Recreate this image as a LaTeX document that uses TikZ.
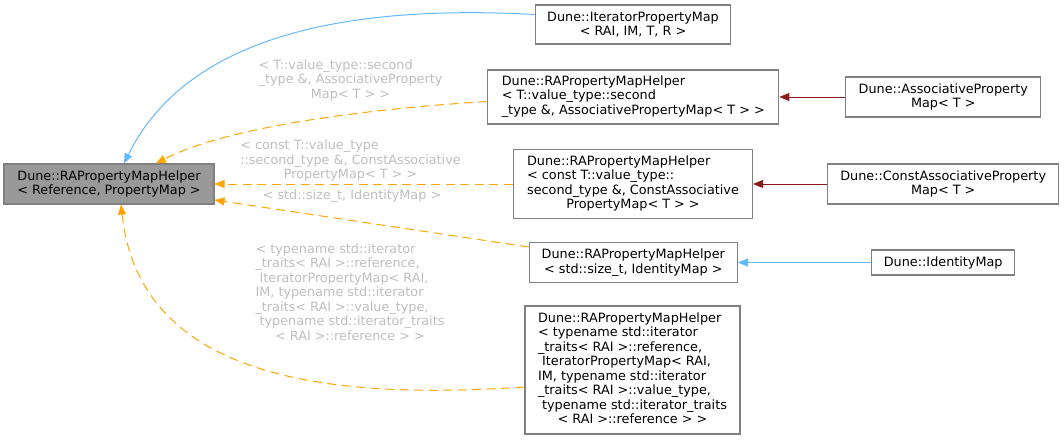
\documentclass[tikz,border=0pt]{standalone}
\usepackage{fontspec}
\setmainfont{DejaVu Sans}
\usetikzlibrary{arrows.meta}
\definecolor{edgeblue}{RGB}{99,184,255}
\definecolor{edgeorange}{RGB}{255,165,0}
\definecolor{edgered}{RGB}{139,26,26}
\definecolor{boxborder}{RGB}{128,128,128}
\definecolor{mainfill}{RGB}{153,153,153}
\definecolor{lblgray}{RGB}{190,190,190}
\begin{document}
\begin{tikzpicture}[x=1pt,y=-1pt,
  font=\fontsize{12.8}{14.5}\selectfont,
  cls/.style={draw=boxborder, line width=1.1pt, fill=white, inner sep=0pt, align=center},
  lbl/.style={text=lblgray, align=center, inner sep=0pt},
  bluearrow/.style={draw=edgeblue, line width=1pt, -{Triangle[length=10pt,width=8pt]}, fill=none},
  redarrow/.style={draw=edgered, line width=1pt, -{Triangle[length=10pt,width=8pt]}},
  orangearrow/.style={draw=edgeorange, line width=1pt, dash pattern=on 9pt off 5.5pt, -{Triangle[length=10pt,width=8pt]}}
]
\useasboundingbox (0,0) rectangle (1064,440);

\node[cls, fill=mainfill, minimum width=210pt, minimum height=40pt] (main) at (109,184)
  {Dune::RAPropertyMapHelper\\< Reference, PropertyMap >};
\node[cls, minimum width=195pt, minimum height=39pt] (ipm) at (633,24.5)
  {Dune::IteratorPropertyMap\\< RAI, IM, T, R >};
\node[cls, minimum width=291pt, minimum height=54pt] (hT) at (633.3,97)
  {\begin{tabular}{@{}l@{}}Dune::RAPropertyMapHelper\\< T::value\_type::second\\\_type \&, AssociativePropertyMap< T > >\end{tabular}};
\node[cls, minimum width=195pt, minimum height=40pt] (apm) at (943.3,97)
  {Dune::AssociativeProperty\\Map< T >};
\node[cls, minimum width=239pt, minimum height=69pt] (hC) at (633,184)
  {\begin{tabular}{@{}l@{}}Dune::RAPropertyMapHelper\\< const T::value\_type::\\second\_type \&, ConstAssociative\\\multicolumn{1}{@{}c@{}}{PropertyMap< T > >}\end{tabular}};
\node[cls, minimum width=231pt, minimum height=40pt] (capm) at (943.2,184)
  {Dune::ConstAssociativeProperty\\Map< T >};
\node[cls, minimum width=208pt, minimum height=40pt] (hS) at (633.3,262.5)
  {Dune::RAPropertyMapHelper\\< std::size\_t, IdentityMap >};
\node[cls, minimum width=143pt, minimum height=25pt] (idm) at (943.2,262.5)
  {Dune::IdentityMap};
\node[cls, minimum width=215pt, minimum height=128pt] (hI) at (632.5,370)
  {\begin{tabular}{@{}l@{}}Dune::RAPropertyMapHelper\\< typename std::iterator\\\_traits< RAI >::reference,\\\ IteratorPropertyMap< RAI,\\IM, typename std::iterator\\\_traits< RAI >::value\_type,\\\ typename std::iterator\_traits\\\multicolumn{1}{@{}c@{}}{< RAI >::reference > >}\end{tabular}};

% labels
\node[lbl] (l1) at (350.5,81)
  {\begin{tabular}{@{}l@{}}< T::value\_type::second\\\_type \&, AssociativeProperty\\\multicolumn{1}{@{}c@{}}{Map< T > >}\end{tabular}};
\node[lbl] (l2) at (350.5,161.5)
  {\begin{tabular}{@{}l@{}}< const T::value\_type\\::second\_type \&, ConstAssociative\\\multicolumn{1}{@{}c@{}}{PropertyMap< T > >}\end{tabular}};
\node[lbl] (l3) at (352,196) {< std::size\_t, IdentityMap >};
\node[lbl] (l4) at (350,294)
  {\begin{tabular}{@{}l@{}}< typename std::iterator\\\_traits< RAI >::reference,\\\ IteratorPropertyMap< RAI,\\IM, typename std::iterator\\\_traits< RAI >::value\_type,\\\ typename std::iterator\_traits\\\multicolumn{1}{@{}c@{}}{< RAI >::reference > >}\end{tabular}};

% edges
\draw[bluearrow] ([yshift=10pt]ipm.west) .. controls (360,5) and (190,30) .. ([xshift=15pt]main.north);
\draw[orangearrow] ([yshift=-4.5pt]hT.west) .. controls (380,108) and (230,125) .. ([xshift=47pt]main.north);
\draw[orangearrow] (hC.west) -- (main.east);
\draw[orangearrow] ([yshift=15.5pt]hS.west) -- ([yshift=-16pt]main.east);
\draw[orangearrow] ([yshift=-17pt]hI.west) .. controls (330,400) and (140,380) .. ([xshift=12pt]main.south);
\draw[redarrow] (apm.west) -- (hT.east);
\draw[redarrow] (capm.west) -- (hC.east);
\draw[bluearrow] (idm.west) -- (hS.east);
\end{tikzpicture}
\end{document}
